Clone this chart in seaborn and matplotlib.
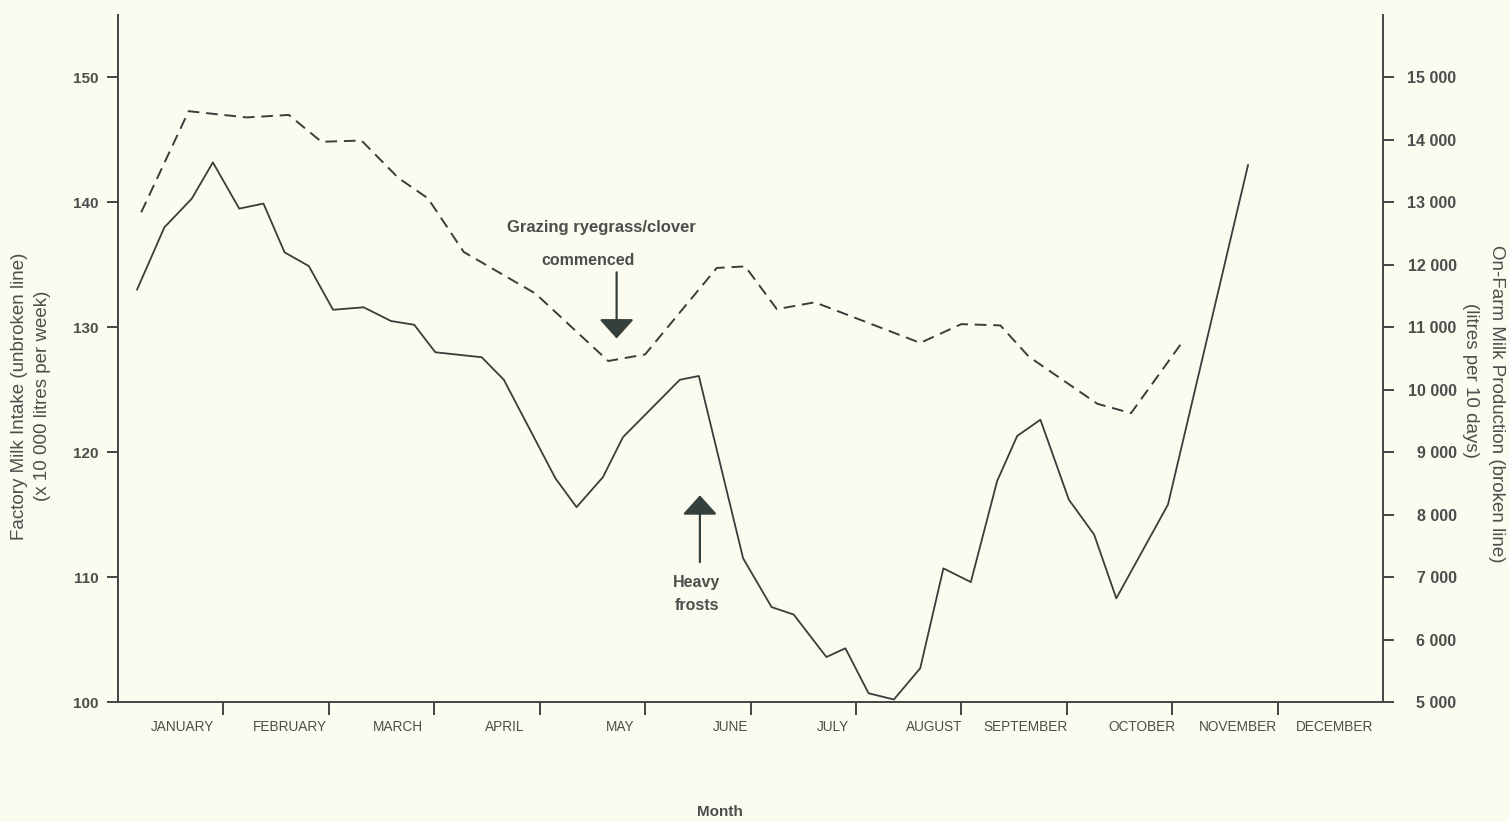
import matplotlib
matplotlib.use("Agg")
import matplotlib.pyplot as plt
import seaborn as sns

# ---------------- data ----------------
months = ["JANUARY", "FEBRUARY", "MARCH", "APRIL", "MAY", "JUNE", "JULY",
          "AUGUST", "SEPTEMBER", "OCTOBER", "NOVEMBER", "DECEMBER"]
month_label_pos = [0.61, 1.63, 2.66, 3.67, 4.76, 5.81, 6.78, 7.74, 8.61, 9.71, 10.62, 11.54]
month_bounds = [1, 2, 3, 4, 5, 6, 7, 8, 9, 10, 11]

# Factory milk intake (x 10 000 litres per week) - unbroken line
factory_x = [0.18, 0.44, 0.70, 0.90, 1.15, 1.38, 1.58, 1.81, 2.04, 2.33, 2.59, 2.81,
             3.01, 3.45, 3.66, 4.15, 4.35, 4.60, 4.79, 5.33, 5.51, 5.93, 6.20, 6.41,
             6.72, 6.90, 7.12, 7.36, 7.61, 7.83, 8.09, 8.34, 8.53, 8.75, 9.02, 9.26,
             9.47, 9.96, 10.72]
factory_intake = [133.0, 138.0, 140.3, 143.2, 139.5, 139.9, 136.0, 134.9, 131.4, 131.6,
                  130.5, 130.2, 128.0, 127.6, 125.8, 117.9, 115.6, 118.0, 121.2, 125.8,
                  126.1, 111.5, 107.6, 107.0, 103.6, 104.3, 100.7, 100.2, 102.7, 110.7,
                  109.6, 117.7, 121.3, 122.6, 116.2, 113.4, 108.3, 115.8, 143.0]

# On-farm milk production (litres per 10 days) - broken line
farm_x = [0.22, 0.67, 1.22, 1.62, 1.93, 2.31, 2.66, 2.94, 3.28, 3.96, 4.65, 5.00,
          5.68, 5.95, 6.25, 6.61, 7.61, 8.00, 8.37, 8.64, 9.29, 9.61, 10.08]
farm_production = [12840, 14460, 14360, 14400, 13970, 13990, 13390, 13065, 12205,
                   11540, 10460, 10565, 11950, 11975, 11290, 11400, 10750, 11050,
                   11030, 10530, 9775, 9625, 10725]

left_ticks = [100, 110, 120, 130, 140, 150]
right_ticks = [5000, 6000, 7000, 8000, 9000, 10000, 11000, 12000, 13000, 14000, 15000]
right_ticklabels = ["5 000", "6 000", "7 000", "8 000", "9 000", "10 000",
                    "11 000", "12 000", "13 000", "14 000", "15 000"]

# ---------------- style ----------------
sns.set_theme(style="white")
plt.rcParams["font.family"] = ["Liberation Sans", "DejaVu Sans"]
BG = "#fbfbef"
LINE = "#3c3c3c"
TXT = "#4d4d4d"
SPINE = "#444444"
ARROW = "#35403c"

fig = plt.figure(figsize=(15.09, 8.22), dpi=100, facecolor=BG)
W, H = 1509, 822
ax = fig.add_axes([118 / W, 1 - 702 / H, (1383 - 118) / W, (702 - 15) / H])
ax.set_facecolor(BG)
ax2 = ax.twinx()

sns.lineplot(x=factory_x, y=factory_intake, ax=ax, color=LINE, linewidth=1.3,
             sort=False, estimator=None)
sns.lineplot(x=farm_x, y=farm_production, ax=ax2, color=LINE, linewidth=1.4,
             sort=False, estimator=None)
ax2.lines[-1].set_linestyle((0, (6, 3.5)))

ax.set_xlim(0, 12)
ax.set_ylim(100, 155)
ax2.set_ylim(5000, 16000)

for a in (ax, ax2):
    a.set_xlabel("")
    a.set_ylabel("")
    a.spines["top"].set_visible(False)
ax.spines["right"].set_visible(False)
ax2.spines["left"].set_visible(False)
ax2.spines["bottom"].set_visible(False)
for s in ("left", "bottom"):
    ax.spines[s].set_color(SPINE)
    ax.spines[s].set_linewidth(1.4)
ax2.spines["right"].set_color(SPINE)
ax2.spines["right"].set_linewidth(1.4)

# x axis: boundary ticks + month labels between them
ax.set_xticks(month_bounds)
ax.set_xticklabels([])
ax.set_xticks(month_label_pos, minor=True)
ax.set_xticklabels(months, minor=True, fontsize=9.8, color=TXT)
ax.tick_params(axis="x", which="major", direction="out", length=9, width=1.4,
               color=SPINE, bottom=True)
ax.tick_params(axis="x", which="minor", length=0, pad=13, bottom=True)

# left y axis
ax.set_yticks(left_ticks)
ax.set_yticklabels([str(v) for v in left_ticks], fontsize=11, fontweight="bold", color=TXT)
ax.tick_params(axis="y", direction="out", length=8, width=1.4, color=SPINE, pad=6, left=True)

# right y axis
ax2.set_yticks(right_ticks)
ax2.set_yticklabels(right_ticklabels, fontsize=11.5, fontweight="bold", color=TXT, ha="right")
ax2.tick_params(axis="y", direction="out", length=8, width=1.4, color=SPINE, pad=45, right=True)

# annotations
ax.text(4.59, 138.0, "Grazing ryegrass/clover", ha="center", va="center",
        fontsize=12, fontweight="bold", color=TXT)
ax.text(4.46, 135.35, "commenced", ha="center", va="center",
        fontsize=11.5, fontweight="bold", color=TXT)
ax.annotate("", xy=(4.73, 129.1), xytext=(4.73, 134.4),
            arrowprops=dict(arrowstyle="-|>,head_length=0.6,head_width=0.54",
                            mutation_scale=20, color=ARROW, lw=1.6,
                            shrinkA=0, shrinkB=0))
ax.annotate("", xy=(5.52, 116.55), xytext=(5.52, 111.2),
            arrowprops=dict(arrowstyle="-|>,head_length=0.6,head_width=0.54",
                            mutation_scale=20, color=ARROW, lw=1.6,
                            shrinkA=0, shrinkB=0))
ax.text(5.49, 109.55, "Heavy", ha="center", va="center",
        fontsize=11.5, fontweight="bold", color=TXT)
ax.text(5.49, 107.75, "frosts", ha="center", va="center",
        fontsize=11.5, fontweight="bold", color=TXT)

# axis titles
fig.text(20 / W, 1 - 396 / H, "Factory Milk Intake (unbroken line)", rotation=90,
         ha="center", va="center", fontsize=13.5, color=TXT)
fig.text(43 / W, 1 - 396 / H, "(x 10 000 litres per week)", rotation=90,
         ha="center", va="center", fontsize=13.5, color=TXT)
fig.text(1497 / W, 1 - 404 / H, "On-Farm Milk Production (broken line)", rotation=-90,
         ha="center", va="center", fontsize=13.5, color=TXT)
fig.text(1471 / W, 1 - 380 / H, "(litres per 10 days)", rotation=-90,
         ha="center", va="center", fontsize=13.5, color=TXT)
fig.text(720 / W, 1 - 812 / H, "Month", ha="center", va="center",
         fontsize=11, fontweight="bold", color=TXT)

fig.savefig("out.png", dpi=100, facecolor=BG)
